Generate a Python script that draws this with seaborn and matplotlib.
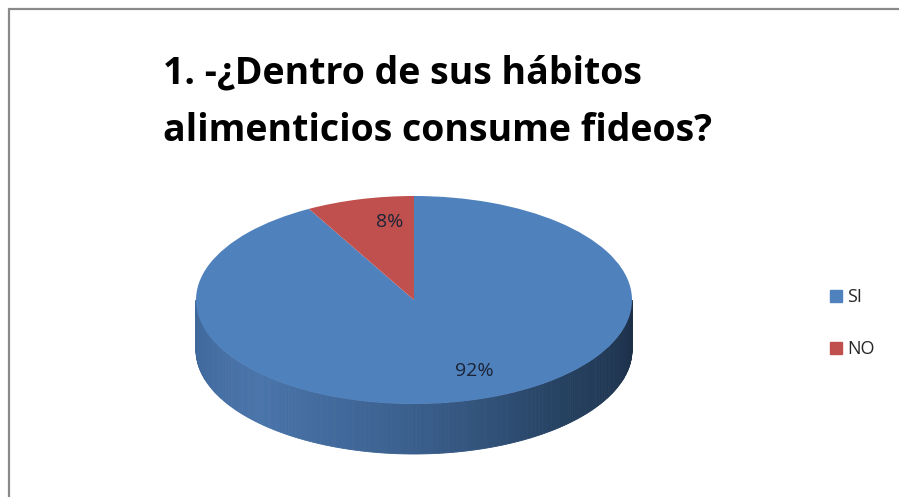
import numpy as np
import matplotlib
matplotlib.use("Agg")
import matplotlib.pyplot as plt
from matplotlib.patches import Polygon
from matplotlib.lines import Line2D
import seaborn as sns

# Survey answers
categories = ["SI", "NO"]
shares = [92, 8]
title_lines = ["1. -¿Dentro de sus hábitos", "alimenticios consume fideos?"]

sns.set_theme(style="white")
plt.rcParams["font.family"] = ["Open Sans", "DejaVu Sans"]

W, H = 899, 497
fig = plt.figure(figsize=(W / 100, H / 100), dpi=100)
fig.patch.set_facecolor("white")

# Pie geometry (pixels): ellipse centre, semi-axes, side depth
cx, cy, ax_px, by_px, depth_px = 414, 300, 218, 104, 50
ax = fig.add_axes([0, 0, 1, 1])

blue, red = "#4f81bd", "#c0504d"
depth = depth_px / by_px

# Side wall of the disc, shaded left-to-right
n = 240
t = np.linspace(np.pi, 2 * np.pi, n + 1)
shade = sns.blend_palette(["#3e6799", "#4a75ab", "#3a5f8d", "#25405f", "#1c2f48"], n)
for i in range(n):
    t0, t1 = t[i], t[i + 1]
    pts = [(np.cos(t0), np.sin(t0)), (np.cos(t1), np.sin(t1)),
           (np.cos(t1), np.sin(t1) - depth), (np.cos(t0), np.sin(t0) - depth)]
    ax.add_patch(Polygon(pts, closed=True, facecolor=shade[i],
                         edgecolor=shade[i], linewidth=0.6, zorder=1))

# Top face
wedges, _ = ax.pie(shares, colors=[blue, red], startangle=90, counterclock=False,
                   radius=1.0, center=(0, 0), frame=True,
                   wedgeprops=dict(linewidth=0))
for w in wedges:
    w.set_zorder(2)
ax.set_xlim((0 - cx) / ax_px, (W - cx) / ax_px)
ax.set_ylim((cy - H) / by_px, (cy - 0) / by_px)
ax.set_aspect("auto")
ax.axis("off")

# Percentage labels
label_px = {"SI": (474, 371), "NO": (390, 222)}
for cat, val in zip(categories, shares):
    px, py = label_px[cat]
    ax.text((px - cx) / ax_px, (cy - py) / by_px, f"{val}%", ha="center", va="center",
            fontsize=14, color="#1a2436", zorder=5)

# Title
for i, line in enumerate(title_lines):
    fig.text(163 / W, 1 - (83 + 58 * i) / H, line, ha="left", va="baseline",
             fontsize=27, fontweight="bold", color="black")

# Legend
handles = [Line2D([], [], linestyle="none", marker="s", markersize=8,
                  markerfacecolor=c, markeredgecolor=c) for c in [blue, red]]
fig.legend(handles, categories, loc="center left", bbox_to_anchor=(819 / W, 1 - 323 / H),
           frameon=False, fontsize=13, handletextpad=0.15, labelspacing=1.9,
           handlelength=0.9, borderpad=0)

# Outer frame (top and left edges)
fig.add_artist(Line2D([9 / W, 1], [1 - 9 / H, 1 - 9 / H], color="#8a8a8a", linewidth=1.6))
fig.add_artist(Line2D([9 / W, 9 / W], [0, 1 - 9 / H], color="#8a8a8a", linewidth=1.6))

fig.savefig("out.png", dpi=100, facecolor="white")
